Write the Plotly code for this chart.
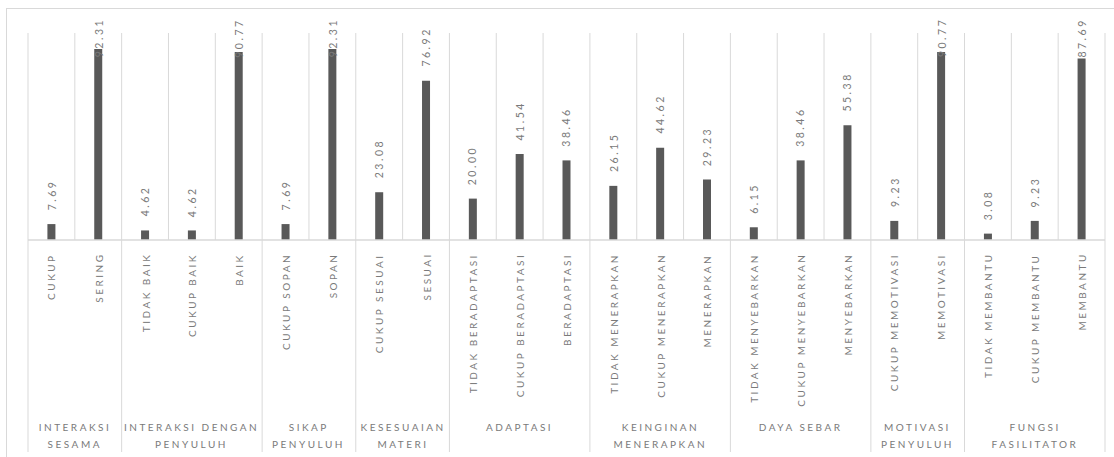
import plotly.graph_objects as go

# ---------------- data ----------------
groups = ["INTERAKSI<br>SESAMA", "INTERAKSI DENGAN<br>PENYULUH", "SIKAP<br>PENYULUH",
          "KESESUAIAN<br>MATERI", "ADAPTASI", "KEINGINAN<br>MENERAPKAN", "DAYA SEBAR",
          "MOTIVASI<br>PENYULUH", "FUNGSI<br>FASILITATOR"]
group_sizes = [2, 3, 2, 2, 3, 3, 3, 2, 3]
categories = ["CUKUP", "SERING",
              "TIDAK BAIK", "CUKUP BAIK", "BAIK",
              "CUKUP SOPAN", "SOPAN",
              "CUKUP SESUAI", "SESUAI",
              "TIDAK BERADAPTASI", "CUKUP BERADAPTASI", "BERADAPTASI",
              "TIDAK MENERAPKAN", "CUKUP MENERAPKAN", "MENERAPKAN",
              "TIDAK MENYEBARKAN", "CUKUP MENYEBARKAN", "MENYEBARKAN",
              "CUKUP MEMOTIVASI", "MEMOTIVASI",
              "TIDAK MEMBANTU", "CUKUP MEMBANTU", "MEMBANTU"]
values = [7.69, 92.31, 4.62, 4.62, 90.77, 7.69, 92.31, 23.08, 76.92, 20.00, 41.54,
          38.46, 26.15, 44.62, 29.23, 6.15, 38.46, 55.38, 9.23, 90.77, 3.08, 9.23, 87.69]

# ---------------- style / layout constants ----------------
W, H = 1114, 457
BOX_L, BOX_T = 7, 9            # chart border (left / top), px
PLOT_L, PLOT_R = 28, 1105      # inner plot area, px
BASE_Y, TOP_Y = 240, 33        # baseline and 100-line, px
YMAX = 100
LS = 2.5                       # letter spacing (px) applied via post_script
FONT = "Lato, 'Open Sans', sans-serif"
BAR_C = "#595959"
GRID_C = "#d9d9d9"
LBL_C = "#7a7a7a"
LABEL_GAP = 12.7               # px between bar top and its label
LABEL_LEN = 38                 # approx. rendered length of a value label (px)
LABEL_TOP_LIMIT = 16           # value labels may not rise above this row (px)

n = len(categories)
xs = list(range(n))
CAT_W = (PLOT_R - PLOT_L) / n
PPU = (BASE_Y - TOP_Y) / YMAX

def xd(px):
    """pixel column -> category-axis value"""
    return -0.5 + (px - PLOT_L) / CAT_W

def yd(px):
    """pixel row -> value-axis value"""
    return (BASE_Y - px) / PPU

fig = go.Figure()
fig.add_trace(go.Bar(x=xs, y=values, width=0.171, marker=dict(color=BAR_C, line=dict(width=0)),
                     hoverinfo="skip"))

shapes = []
annotations = []

# vertical gridlines between categories (inside plot)
for i in range(n + 1):
    shapes.append(dict(type="line", xref="x", yref="y", x0=i - 0.5, x1=i - 0.5, y0=0, y1=YMAX,
                       line=dict(color=GRID_C, width=1), layer="below"))

# group separators extending below the axis
bounds = [0]
for s in group_sizes:
    bounds.append(bounds[-1] + s)
for b in bounds:
    shapes.append(dict(type="line", xref="x", yref="y", x0=b - 0.5, x1=b - 0.5, y0=yd(452), y1=0,
                       line=dict(color=GRID_C, width=1), layer="below"))

# category axis line
shapes.append(dict(type="line", xref="x", yref="y", x0=-0.5, x1=n - 0.5, y0=0, y1=0,
                   line=dict(color=GRID_C, width=1.3), layer="above"))

# data labels (rotated); labels that would leave the chart are pinned at the top
for x, v in zip(xs, values):
    txt = f"{v:.2f}"
    natural_top = BASE_Y - v * PPU - LABEL_GAP - LABEL_LEN
    if natural_top < LABEL_TOP_LIMIT:
        annotations.append(dict(x=x, y=yd(LABEL_TOP_LIMIT), xref="x", yref="y", text=txt,
                                showarrow=False, textangle=-90, yanchor="top", xanchor="center",
                                font=dict(family=FONT, size=10.5, color=LBL_C)))
    else:
        annotations.append(dict(x=x, y=v, xref="x", yref="y", text=txt, showarrow=False,
                                textangle=-90, yanchor="bottom", xanchor="center",
                                yshift=LABEL_GAP - 1,
                                font=dict(family=FONT, size=10.5, color=LBL_C)))

# sub-category labels (rotated)
for x, c in zip(xs, categories):
    annotations.append(dict(x=x, y=yd(251), xref="x", yref="y", text=c, showarrow=False,
                            textangle=-90, yanchor="top", xanchor="center",
                            font=dict(family=FONT, size=10, color=LBL_C)))

# group labels (one annotation per line)
for gi, g in enumerate(groups):
    center = (bounds[gi] + bounds[gi + 1] - 1) / 2
    for li, line in enumerate(g.split("<br>")):
        annotations.append(dict(x=center, y=yd(427 + li * 16.5), xref="x", yref="y", text=line,
                                showarrow=False, yanchor="middle", xanchor="center",
                                font=dict(family=FONT, size=10, color=LBL_C)))

fig.update_layout(
    width=W, height=H,
    margin=dict(l=BOX_L, r=0, t=BOX_T, b=0, pad=0),
    paper_bgcolor="white", plot_bgcolor="white",
    showlegend=False,
    # axes span the whole chart box; their lines form the chart border (top / left)
    xaxis=dict(range=[xd(BOX_L), xd(W)], side="top", showline=True, linecolor=GRID_C, linewidth=1.3,
               mirror=False, showticklabels=False, showgrid=False, zeroline=False, ticks="",
               fixedrange=True),
    yaxis=dict(range=[yd(H), yd(BOX_T)], side="left", showline=True, linecolor=GRID_C, linewidth=1.3,
               mirror=False, showticklabels=False, showgrid=False, zeroline=False, ticks="",
               fixedrange=True),
    shapes=shapes, annotations=annotations,
)

# apply letter spacing (as in the original) and keep each label's anchored edge in place
post = """
var gd = document.getElementById('{plot_id}');
var anns = (gd.layout && gd.layout.annotations) || [];
gd.querySelectorAll('g.annotation').forEach(function(g, k){
  var di = g.getAttribute('data-index');
  var a = anns[di !== null ? +di : k] || {};
  var t = g.querySelector('text.annotation-text');
  if (!t) return;
  var b0 = t.getBoundingClientRect();
  t.style.letterSpacing = '%spx';
  var b1 = t.getBoundingClientRect();
  var dx = 0, dy = 0;
  if (a.textangle === -90) {
    if (a.yanchor === 'bottom') dy = b0.bottom - b1.bottom;
    else if (a.yanchor === 'top') dy = b0.top - b1.top;
    else dy = (b0.top + b0.bottom - b1.top - b1.bottom) / 2;
  } else {
    dx = (b0.left + b0.right - b1.left - b1.right) / 2;
  }
  g.setAttribute('transform', 'translate(' + dx + ',' + dy + ') ' + (g.getAttribute('transform') || ''));
});
""" % LS

fig.write_html("out.html", post_script=post, config={"displayModeBar": False})
